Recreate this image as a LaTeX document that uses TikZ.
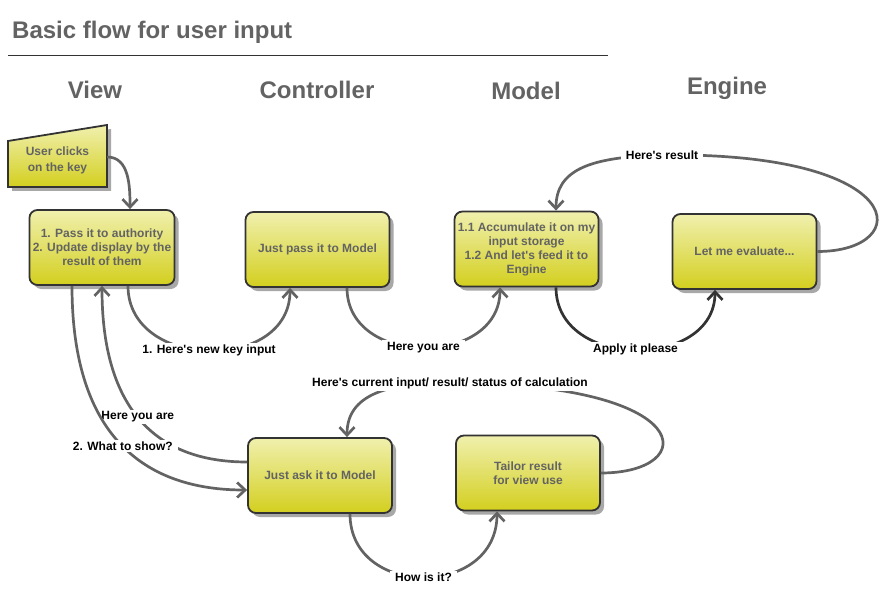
\documentclass[tikz,border=0pt]{standalone}
\usepackage{fontspec}
\setmainfont{Liberation Sans}
\usetikzlibrary{arrows.meta, shadows}
\definecolor{boxtop}{HTML}{F0F0AE}
\definecolor{boxbot}{HTML}{D3CF1F}
\definecolor{inkgray}{HTML}{636363}
\definecolor{edgegray}{HTML}{333333}
\definecolor{shadegray}{HTML}{A8A8A8}
\newcommand{\apo}{\textquotesingle}

\begin{document}
\begin{tikzpicture}[x=1pt, y=-1pt,
			stepbox/.style = {draw=edgegray, line width=1.8pt, rounded corners=8pt, top color=boxtop, bottom color=boxbot, minimum width=144pt, minimum height=75pt, align=center, text=inkgray, font=\fontsize{12}{14}\selectfont\bfseries, general shadow={fill=shadegray, shadow xshift=4pt, shadow yshift=-4pt}},
			clickbox/.style = {draw=edgegray, line width=1.8pt, top color=boxtop, bottom color=boxbot, general shadow={fill=shadegray, shadow xshift=4pt, shadow yshift=-4pt}},
			head/.style   = {inner sep=0pt, text=inkgray, font=\fontsize{24}{28}\selectfont\bfseries},
			lbl/.style    = {fill=white, inner xsep=5pt, inner ysep=2pt, font=\fontsize{12}{14}\selectfont\bfseries},
			conn/.style   = {draw=inkgray, line width=2.7pt, -{Straight Barb[length=8pt,width=15pt]}},]
			
			\useasboundingbox (0,0) rectangle (894,604);
			
			%% TITLE AND COLUMNS
			\node[head, anchor=west] (title) at (12,32) {Basic flow for user input};
			\draw[edgegray, line width=0.9pt] (8,55) -- (608,55);
			\node[head] (hview) at (95,90) {View};
			\node[head] (hctrl) at (317,90) {Controller};
			\node[head] (hmodel) at (526,91) {Model};
			\node[head] (hengine) at (727,88) {Engine};
			
			%% USER INPUT
			\path[clickbox] (8,141) -- (107,125) -- (107,187) -- (8,187) -- cycle;
			\node[align=center, text=inkgray, minimum width=99pt, font=\fontsize{12}{14}\selectfont\bfseries] (click) at (57.5,160) {User clicks\\[2pt]on the key};
			
			% BOXES
			\node[stepbox] (view1) at (102,247.5) {1. Pass it to authority\\2. Update display by the\\result of them};
			\node[stepbox] (ctrl1) at (317.5,249.5) {Just pass it to Model};
			\node[stepbox] (model1) at (526.5,249) {1.1 Accumulate it on my\\input storage\\1.2 And let\apo s feed it to\\Engine};
			\node[stepbox] (engine) at (744.5,251.5) {Let me evaluate...};
			\node[stepbox] (ctrl2) at (320,475.5) {Just ask it to Model};
			\node[stepbox] (model2) at (528,473) {Tailor result\\for view use};
			
			%% KEY INPUT
			\draw[conn] ([yshift=3pt]click.east) to[out=0, in=90] ([xshift=28pt]view1.north);
			\draw[conn] ([xshift=26pt]view1.south) .. controls +(0,85) and +(0,85) .. ([xshift=-27.5pt]ctrl1.south) node[lbl, pos=0.5] (l1) {1. Here\apo s new key input};
			\draw[conn] ([xshift=29.5pt]ctrl1.south) .. controls +(0,80) and +(0,80) .. ([xshift=-26.5pt]model1.south) node[lbl, pos=0.5] (l2) {Here you are};
			\draw[conn, draw=edgegray] ([xshift=29.5pt]model1.south) .. controls +(0,83) and +(0,80) .. ([xshift=-29.5pt]engine.south) node[lbl, pos=0.5] (l3) {Apply it please};
			\draw[conn] (engine.east) .. controls +(98,0) and +(250,-3) .. (662,155) node[lbl] (l4) {Here\apo s result} .. controls +(-72,2) and +(0,-41) .. ([xshift=29.5pt]model1.north);
			
			%% DISPLAY
			\draw[conn] ([yshift=13.5pt]ctrl2.west) .. controls +(-98,0) and +(0,115) .. (view1.south) node[lbl, pos=0.5] (l6) {Here you are};
			\draw[conn] ([xshift=-30pt]view1.south) .. controls +(0,155) and +(-98,0) .. ([yshift=-14.5pt]ctrl2.west) node[lbl, pos=0.5] (l5) {2. What to show?};
			\draw[conn] ([xshift=30pt]ctrl2.south) .. controls +(0,85) and +(0,87) .. ([xshift=-31pt]model2.south) node[lbl, pos=0.5] (l7) {How is it?};
			\draw[conn] (model2.east) .. controls +(100,0) and +(250,0) .. (450,383) node[lbl] (l8) {Here\apo s current input/ result/ status of calculation} .. controls +(-50,0) and +(0,-48) .. ([xshift=27pt]ctrl2.north);
\end{tikzpicture}
\end{document}
